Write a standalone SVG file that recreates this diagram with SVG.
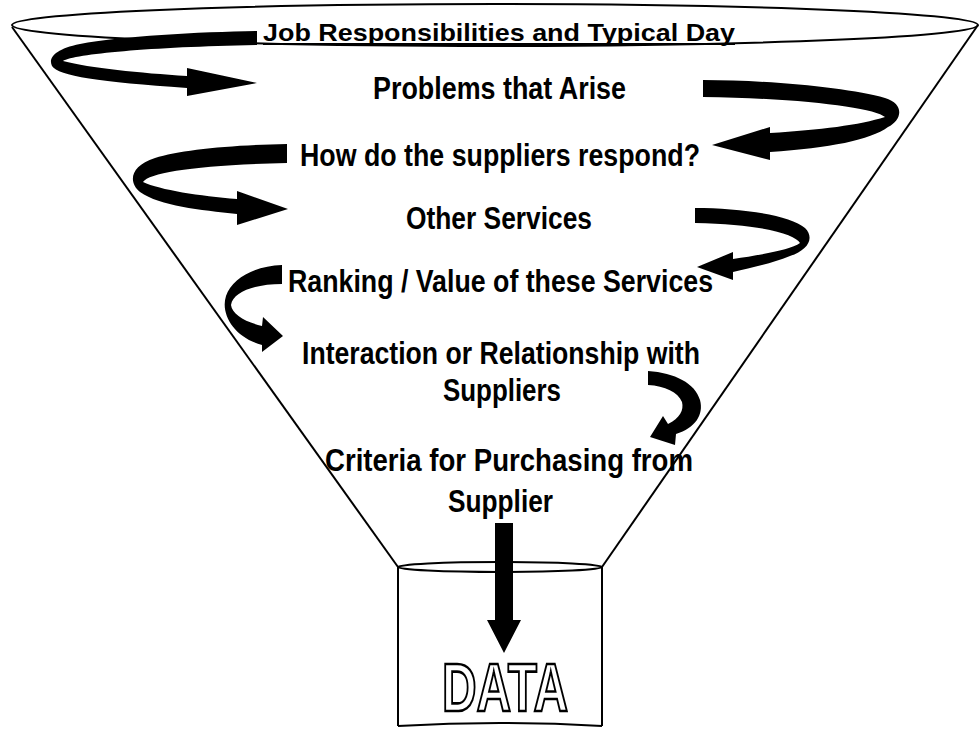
<svg xmlns="http://www.w3.org/2000/svg" width="980" height="730" viewBox="0 0 980 730">
  <style>
    .outline { fill: none; stroke: #000; stroke-width: 2; }
    .label { font-family: "Liberation Sans", Arial, sans-serif; font-weight: bold; font-size: 32px; fill: #000; }
    .title { font-size: 24px; }
    .arrow { fill: #000; stroke: none; }
    .data { font-family: "Liberation Sans", Arial, sans-serif; font-weight: bold; font-size: 69px; fill: #fff; stroke: #000; stroke-width: 2.6; }
  </style>
  <rect width="980" height="730" fill="#fff"/>

  <!-- funnel body -->
  <g id="funnel">
    <ellipse class="outline" cx="495" cy="25" rx="483" ry="21"/>
    <line class="outline" x1="12" y1="27" x2="398" y2="567"/>
    <line class="outline" x1="978" y1="25" x2="602" y2="567"/>
  </g>

  <!-- collection container -->
  <g id="container">
    <ellipse class="outline" cx="500" cy="567" rx="102" ry="5"/>
    <line class="outline" x1="398" y1="567" x2="398" y2="726"/>
    <line class="outline" x1="602" y1="567" x2="602" y2="726"/>
    <path class="outline" d="M398,726 Q500,720 602,726"/>
    <text class="data" x="442" y="711" textLength="126" lengthAdjust="spacingAndGlyphs">DATA</text>
  </g>

  <!-- topic labels -->
  <g id="job">
    <text class="label title" x="263" y="41" textLength="472" lengthAdjust="spacingAndGlyphs">Job Responsibilities and Typical Day</text>
    <rect x="263" y="43" width="472" height="2" fill="#000"/>
  </g>
  <g id="problems">
    <text class="label" x="373" y="99" textLength="253" lengthAdjust="spacingAndGlyphs">Problems that Arise</text>
  </g>
  <g id="respond">
    <text class="label" x="300" y="166" textLength="400" lengthAdjust="spacingAndGlyphs">How do the suppliers respond?</text>
  </g>
  <g id="other">
    <text class="label" x="406" y="229" textLength="186" lengthAdjust="spacingAndGlyphs">Other Services</text>
  </g>
  <g id="ranking">
    <text class="label" x="288" y="292" textLength="425" lengthAdjust="spacingAndGlyphs">Ranking / Value of these Services</text>
  </g>
  <g id="interaction">
    <text class="label" x="302" y="364" textLength="398" lengthAdjust="spacingAndGlyphs">Interaction or Relationship with</text>
    <text class="label" x="443" y="401" textLength="118" lengthAdjust="spacingAndGlyphs">Suppliers</text>
  </g>
  <g id="criteria">
    <text class="label" x="325" y="471" textLength="368" lengthAdjust="spacingAndGlyphs">Criteria for Purchasing from</text>
    <text class="label" x="448" y="512" textLength="105" lengthAdjust="spacingAndGlyphs">Supplier</text>
  </g>

  <!-- curved flow arrows between topics -->
  <g id="connectors">
    <path class="arrow" d="M257,31 C200,32 120,36 80,44 C55,49 48,58 52,66 C58,76 100,82 187,88 L187,96 L257,83 L187,68 L187,76 C140,73 90,68 63,61 C75,54 150,47 257,45 Z"/>
    <path class="arrow" d="M703,80 C770,80 850,88 885,98 C905,104 902,120 888,127 C870,140 830,148 770,152 L770,160 L712,145 L770,127 L770,133 C820,130 860,125 885,117 C875,108 800,98 703,97 Z"/>
    <path class="arrow" d="M287,144 C230,145 180,150 155,158 C130,166 128,182 140,192 C160,206 200,210 237,214 L237,225 L288,209 L237,191 L237,199 C200,196 160,190 143,182 C150,172 200,165 287,163 Z"/>
    <path class="arrow" d="M695,208 C740,208 790,215 805,228 C815,238 808,250 790,256 C770,264 750,268 733,272 L733,280 L697,267 L733,252 L733,259 C760,255 790,250 800,243 C795,234 760,224 695,223 Z"/>
    <path class="arrow" d="M282,265 C255,266 232,278 226,296 C220,315 235,338 262,345 L262,352 L283,336 L263,317 L262,326 C245,322 232,314 231,305 C233,292 255,284 282,284 Z"/>
    <path class="arrow" d="M648,371 C675,373 695,383 700,400 C704,415 695,428 676,434 L675,445 L650,437 L663,416 L668,424 C680,418 684,410 682,402 C678,392 665,386 648,385 Z"/>
    <polygon class="arrow" points="495,523 513,523 513,620 521,620 504,653 487,620 495,620"/>
  </g>
</svg>
